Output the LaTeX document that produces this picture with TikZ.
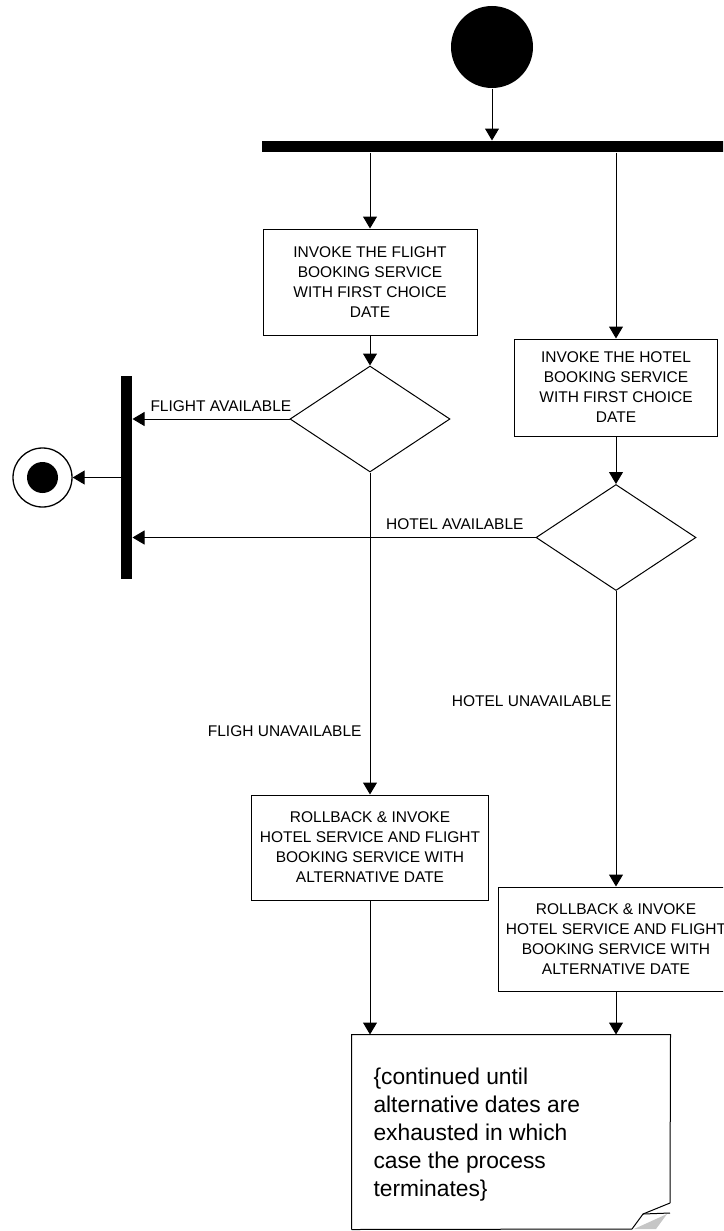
\documentclass[tikz,border=0pt]{standalone}
\usepackage{fontspec}
\setmainfont{Liberation Sans}
\usetikzlibrary{arrows.meta,shapes.geometric}
\begin{document}
\begin{tikzpicture}[x=1pt,y=-1pt,
  line width=1pt,
  arr/.style={-{Triangle[width=14pt,length=12pt]}},
  act/.style={draw, rectangle, inner sep=0pt, align=center, font=\fontsize{15.5}{20}\selectfont},
  dec/.style={draw, diamond, inner sep=0pt, minimum width=160pt, minimum height=106pt},
  bar/.style={fill=black, rectangle, inner sep=0pt},
  lbl/.style={inner sep=0pt, font=\fontsize{15.5}{20}\selectfont},
]
\useasboundingbox (0,0) rectangle (723,1231);
\clip (0,0) rectangle (723,1231);

% start / fork
\node[circle, fill=black, inner sep=0pt, minimum size=82pt] (start) at (492,47) {};
\node[bar, minimum width=470pt, minimum height=11pt] (fork) at (497,146.5) {};

% activities
\node[act, minimum width=214pt, minimum height=106pt] (flight) at (370,282)
  {INVOKE THE FLIGHT\\BOOKING SERVICE\\WITH FIRST CHOICE\\DATE};
\node[act, minimum width=203pt, minimum height=97pt] (hotel) at (616,387.5)
  {INVOKE THE HOTEL\\BOOKING SERVICE\\WITH FIRST CHOICE\\DATE};
\node[dec] (fdiam) at (370,419) {};
\node[dec] (hdiam) at (616,537.5) {};

% join / end
\node[bar, minimum width=11pt, minimum height=203pt] (join) at (126.5,477.5) {};
\node[circle, draw, line width=1.3pt, inner sep=0pt, minimum size=59pt] (end) at (42.5,477.5) {};
\node[circle, fill=black, inner sep=0pt, minimum size=31pt] (endin) at (42.5,477.5) {};

% rollback activities
\node[act, minimum width=237pt, minimum height=105pt] (box1) at (370,847.5)
  {ROLLBACK \& INVOKE\\HOTEL SERVICE AND FLIGHT\\BOOKING SERVICE WITH\\ALTERNATIVE DATE};
\node[act, minimum width=236pt, minimum height=104pt] (box2) at (616,939)
  {ROLLBACK \& INVOKE\\HOTEL SERVICE AND FLIGHT\\BOOKING SERVICE WITH\\ALTERNATIVE DATE};

% note
\node[rectangle, inner sep=0pt, minimum width=318pt, minimum height=194pt] (note) at (511,1132) {};
\coordinate (nre) at (670,1203);
\coordinate (nbe) at (632,1229);
\coordinate (ntip) at (643,1214);
\coordinate (nlow) at (670,1213);
\fill[gray!45] (634,1229) -- (667,1214) -- (656,1229) -- cycle;
\draw (note.south west) -- (note.north west) -- (note.north east) -- (nre);
\draw (note.south west) -- (nbe);
\draw (nre) -- (ntip) -- (nbe);
\draw (ntip) -- (nlow);
\node[anchor=base west, inner sep=0pt, align=left, font=\fontsize{22.8}{28}\selectfont] (notetext) at (373,1196)
  {\{continued until\\alternative dates are\\exhausted in which\\case the process\\terminates\}};

% labels
\node[lbl, anchor=base west] (lfa) at (150,411) {FLIGHT AVAILABLE};
\node[lbl, anchor=base east] (lha) at (524,529) {HOTEL AVAILABLE};
\node[lbl, anchor=base east] (lfu) at (362,736) {FLIGH UNAVAILABLE};
\node[lbl, anchor=base east] (lhu) at (612,706) {HOTEL UNAVAILABLE};

% connectors
\draw[arr] (start.south) -- (start.south |- fork.north);
\draw[arr] (flight.north |- fork.south) -- (flight.north);
\draw[arr] (hotel.north |- fork.south) -- (hotel.north);
\draw[arr] (flight.south) -- (fdiam.north);
\draw[arr] (hotel.south) -- (hdiam.north);
\draw[arr] (fdiam.west) -- (fdiam.west -| join.east);
\draw[arr] (hdiam.west) -- (hdiam.west -| join.east);
\draw[arr] (join.west) -- (end.east);
\draw[arr] (fdiam.south) -- (box1.north);
\draw[arr] (hdiam.south) -- (box2.north);
\draw[arr] (box1.south) -- (box1.south |- note.north);
\draw[arr] (box2.south) -- (box2.south |- note.north);
\end{tikzpicture}
\end{document}
